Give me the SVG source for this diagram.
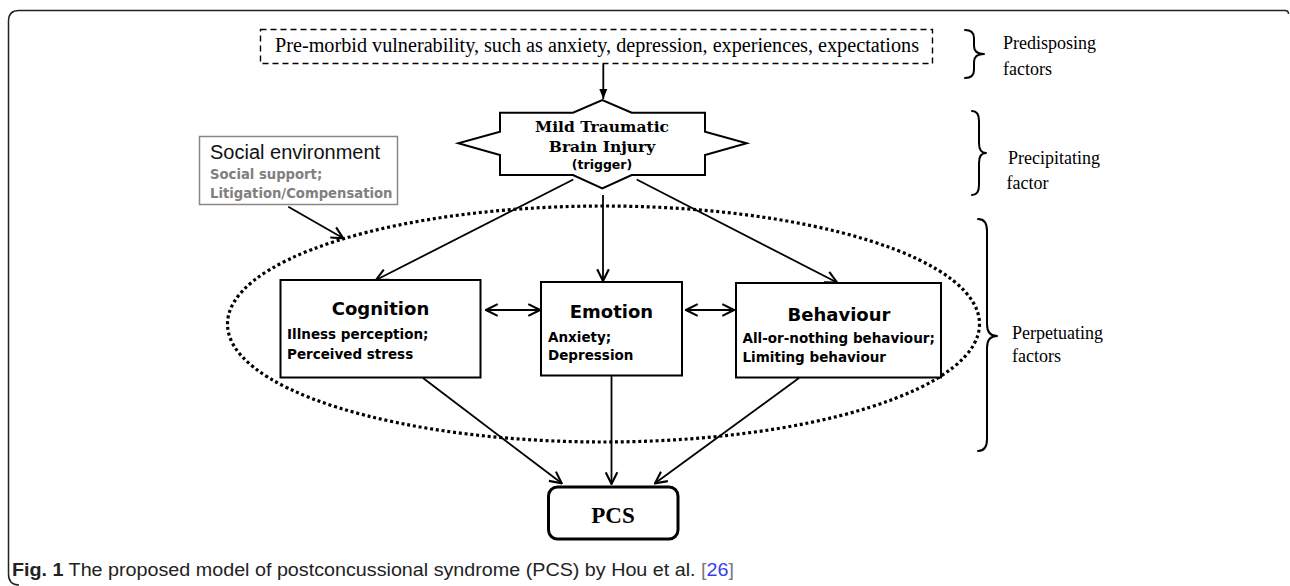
<svg xmlns="http://www.w3.org/2000/svg" width="1290" height="586" viewBox="0 0 1290 586">
<style>
.box{fill:#fff;stroke:#000;stroke-width:2}
.ln{fill:none;stroke:#000;stroke-width:1.8}
.brace{fill:none;stroke:#000;stroke-width:2;stroke-linecap:round;stroke-linejoin:round}
.serif{font-family:"Liberation Serif","Times New Roman",serif;fill:#000}
.title{font-family:"DejaVu Sans",sans-serif;font-weight:bold;font-size:18px;text-anchor:middle;fill:#000}
.sub{font-family:"DejaVu Sans",sans-serif;font-weight:bold;font-size:13.5px;fill:#000}
.lbl{font-family:"Liberation Serif","Times New Roman",serif;font-size:18px;fill:#000}
</style>
<defs>
<marker id="open" markerUnits="userSpaceOnUse" markerWidth="14" markerHeight="14" viewBox="0 0 12 12" refX="11" refY="6" orient="auto-start-reverse">
<path d="M1,1 L11,6 L1,11" fill="none" stroke="#000" stroke-width="1.8"/>
</marker>
<marker id="solid" markerUnits="userSpaceOnUse" markerWidth="10" markerHeight="10" viewBox="0 0 10 10" refX="10" refY="5" orient="auto">
<path d="M0,1 L10,5 L0,9 Z" fill="#000"/>
</marker>
</defs>
<rect width="1290" height="586" fill="#fff"/>
<path d="M1288.5,14 Q1288.5,10.5 1285,10.5 L19,10.5 Q8.5,10.5 8.5,21 L8.5,574 Q8.5,585 19,585" fill="none" stroke="#222" stroke-width="1.5"/>

<g id="predisposing">
<rect x="260.5" y="29.5" width="672" height="34" fill="none" stroke="#000" stroke-width="1.4" stroke-dasharray="6 4"/>
<text class="serif" x="275" y="52" font-size="20" textLength="644" lengthAdjust="spacingAndGlyphs">Pre-morbid vulnerability, such as anxiety, depression, experiences, expectations</text>
</g>

<g id="mtbi">
<path class="box" d="M500,112.7 L573,112.7 L602.3,100 L631.7,112.7 L705,112.7 L705,131.7 L746.7,143.3 L705,155 L705,175 L631.7,175 L602.3,188.3 L573,175 L500,175 L500,155 L458.3,143.3 L500,131.7 Z"/>
<text x="602" y="131.5" font-family="DejaVu Serif,serif" font-weight="bold" font-size="15.5" text-anchor="middle">Mild Traumatic</text>
<text x="602" y="151.5" font-family="DejaVu Serif,serif" font-weight="bold" font-size="15.5" text-anchor="middle">Brain Injury</text>
<text x="602" y="169" font-family="DejaVu Sans,sans-serif" font-weight="bold" font-size="12.5" text-anchor="middle">(trigger)</text>
</g>

<g id="social">
<rect x="199.5" y="136.5" width="198" height="68" fill="#fff" stroke="#888" stroke-width="1.5"/>
<text x="210" y="159" font-family="Liberation Sans,Arial,sans-serif" font-size="20" fill="#111">Social environment</text>
<text x="210" y="179" font-family="DejaVu Sans,sans-serif" font-weight="bold" font-size="13.2" fill="#808080">Social support;</text>
<text x="210" y="197.5" font-family="DejaVu Sans,sans-serif" font-weight="bold" font-size="13.2" fill="#808080">Litigation/Compensation</text>
</g>

<g id="perpetuating-ellipse">
<ellipse cx="603.5" cy="324" rx="376" ry="118" fill="none" stroke="#000" stroke-width="3.2" stroke-dasharray="3 2.8"/>
</g>

<g id="cognition">
<rect class="box" x="280.5" y="280" width="200" height="97.5"/>
<text class="title" x="380.5" y="315">Cognition</text>
<text class="sub" x="287" y="338.5">Illness perception;</text>
<text class="sub" x="287" y="358.5">Perceived stress</text>
</g>

<g id="emotion">
<rect class="box" x="541" y="282" width="141" height="93.5"/>
<text class="title" x="611.5" y="318">Emotion</text>
<text class="sub" x="548" y="341.5">Anxiety;</text>
<text class="sub" x="548" y="360">Depression</text>
</g>

<g id="behaviour">
<rect class="box" x="736" y="283" width="205" height="94.5"/>
<text class="title" x="839" y="321">Behaviour</text>
<text class="sub" x="742.5" y="343">All-or-nothing behaviour;</text>
<text class="sub" x="742.5" y="362">Limiting behaviour</text>
</g>

<g id="pcs">
<rect x="548.5" y="487" width="129.5" height="52" rx="9" fill="#fff" stroke="#000" stroke-width="3"/>
<text x="613" y="523" font-family="Liberation Serif,serif" font-weight="bold" font-size="23" text-anchor="middle">PCS</text>
</g>

<g id="braces">
<path class="brace" d="M965,30 Q974,30 974,38 L974,46 Q974,54 984,54 Q974,54 974,62 L974,70 Q974,78 965,78"/>
<path class="brace" d="M972,111 Q979,111 979,121 L979,143 Q979,153 986,153 Q979,153 979,163 L979,185 Q979,195 972,195"/>
<path class="brace" d="M978,219 Q987,219 987,231 L987,324 Q987,336 997,336 Q987,336 987,348 L987,439 Q987,451 978,451"/>
<text class="lbl" x="1003" y="49">Predisposing</text>
<text class="lbl" x="1003" y="75">factors</text>
<text class="lbl" x="1008" y="164">Precipitating</text>
<text class="lbl" x="1006.5" y="189">factor</text>
<text class="lbl" x="1012" y="339">Perpetuating</text>
<text class="lbl" x="1012" y="362">factors</text>
</g>

<g id="connectors">
<line class="ln" x1="603.3" y1="64" x2="603.3" y2="99" marker-end="url(#solid)"/>
<line class="ln" x1="573.3" y1="179.5" x2="376" y2="280" marker-end="url(#open)"/>
<line class="ln" x1="603" y1="195" x2="603" y2="281" marker-end="url(#open)"/>
<line class="ln" x1="636.7" y1="179.5" x2="837" y2="282.5" marker-end="url(#open)"/>
<line class="ln" x1="288.3" y1="206.7" x2="343.3" y2="238.3" marker-end="url(#open)"/>
<line class="ln" x1="486" y1="310" x2="540" y2="310" marker-start="url(#open)" marker-end="url(#open)"/>
<line class="ln" x1="686" y1="310" x2="734" y2="310" marker-start="url(#open)" marker-end="url(#open)"/>
<line class="ln" x1="423" y1="378" x2="561.7" y2="483.3" marker-end="url(#open)"/>
<line class="ln" x1="611.5" y1="376" x2="611.5" y2="484" marker-end="url(#open)"/>
<line class="ln" x1="799" y1="378" x2="655" y2="483.3" marker-end="url(#open)"/>
</g>

<g id="caption">
<text x="12" y="576" font-family="Liberation Sans,Arial,sans-serif" font-size="17.5" fill="#222" textLength="722" lengthAdjust="spacingAndGlyphs"><tspan font-weight="bold">Fig. 1</tspan> The proposed model of postconcussional syndrome (PCS) by Hou et al. <tspan fill="#777">[</tspan><tspan fill="#3b3bf0">26</tspan><tspan fill="#777">]</tspan></text>
</g>
</svg>
